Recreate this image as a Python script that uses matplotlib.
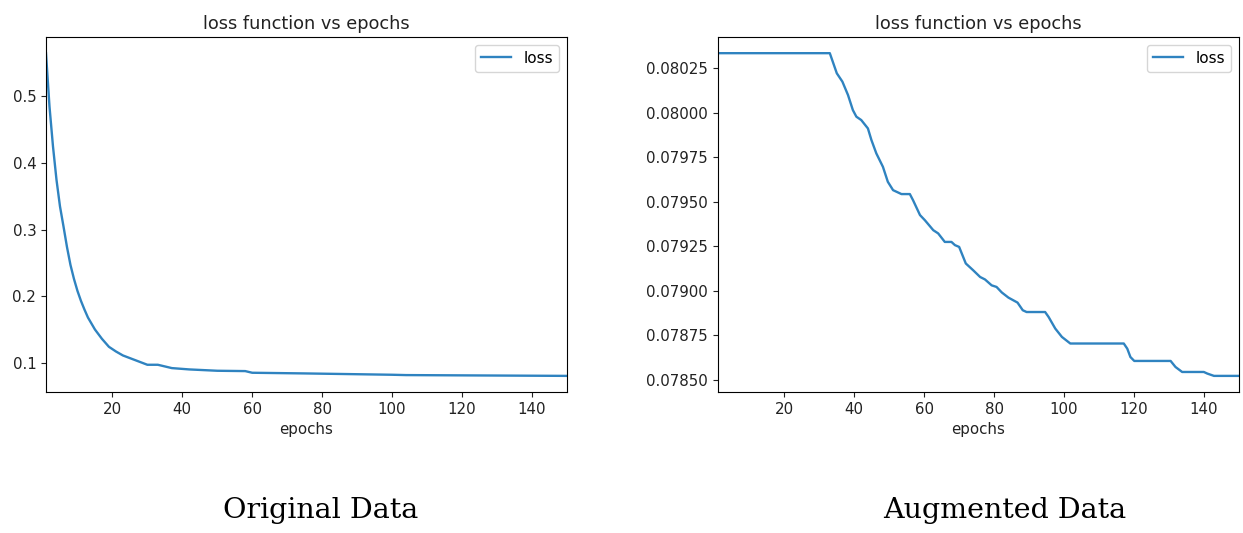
import matplotlib.pyplot as plt

# loss (epoch, loss)
orig_epochs = [1, 2, 3, 4, 5, 6, 7, 8, 9, 10, 11, 12, 13, 14, 15, 16, 17, 18,
               19, 21, 23, 27, 30, 33, 37, 42, 50, 58, 60, 75, 100, 104, 150]
orig_loss = [0.565, 0.485, 0.425, 0.375, 0.335, 0.305, 0.274, 0.247, 0.226,
             0.208, 0.193, 0.180, 0.168, 0.159, 0.150, 0.143, 0.136, 0.130,
             0.124, 0.117, 0.111, 0.103, 0.097, 0.097, 0.092, 0.090,
             0.088, 0.0875, 0.085, 0.084, 0.082, 0.0815, 0.0803]

# loss (epoch, loss)
aug_epochs = [1, 33, 35, 36.6, 38.2, 39.6, 40.6, 42, 43.9, 44.9, 46.3, 48.2,
              49.6, 51.1, 53.5, 55.9, 56.8, 58.8, 60.2, 62.6, 64, 65.9,
              67.8, 68.8, 70, 71.9, 74, 76, 77.4, 79.3, 80.7, 82.2, 84.1,
              86.7, 88.2, 89.3, 94.6, 95.6, 97.5, 99.4, 101.8, 117.1, 118.1,
              119, 120.1, 130.5, 131.9, 133.8, 140, 141, 142.9, 150]
aug_loss = [0.080335, 0.080335, 0.080222, 0.080175, 0.08010, 0.080015,
            0.079978, 0.079959, 0.079912, 0.079847, 0.079772, 0.079696,
            0.079612, 0.079565, 0.079543, 0.079543, 0.079509, 0.079425,
            0.079396, 0.07934, 0.079322, 0.079274, 0.079274, 0.079256,
            0.079246, 0.079153, 0.079115, 0.079077, 0.079063, 0.07903,
            0.079021, 0.07899, 0.078961, 0.078933, 0.07889, 0.07888,
            0.07888, 0.078852, 0.078787, 0.07874, 0.078703, 0.078703,
            0.078674, 0.078627, 0.078605, 0.078605, 0.078571, 0.078543,
            0.078543, 0.078534, 0.078521, 0.078521]

captions = ["Original Data", "Augmented Data"]

fig = plt.figure(figsize=(12.43, 5.33), dpi=100)
ax1 = fig.add_axes([0.037, 0.2645, 0.419, 0.666])
ax2 = fig.add_axes([0.5776, 0.2645, 0.419, 0.666])

for ax, x, y in [(ax1, orig_epochs, orig_loss), (ax2, aug_epochs, aug_loss)]:
    ax.plot(x, y, color='#2f83c0', linewidth=1.7, label='loss')
    ax.set_xlim(1, 150)
    ax.margins(y=0.05)
    ax.set_title("loss function vs epochs", fontsize=12.8, color='#222222')
    ax.set_xlabel("epochs", fontsize=10.8, color='#222222')
    ax.set_xticks([20, 40, 60, 80, 100, 120, 140])
    ax.tick_params(labelsize=10.8, colors='#222222')
    ax.legend(loc='upper right', fontsize=11)

ax1.set_yticks([0.1, 0.2, 0.3, 0.4, 0.5])
ax2.set_yticks([0.0785, 0.07875, 0.079, 0.07925, 0.0795, 0.07975, 0.08, 0.08025])
ax2.set_yticklabels(['0.07850', '0.07875', '0.07900', '0.07925', '0.07950',
                     '0.07975', '0.08000', '0.08025'])

fig.text(0.258, 0.043, captions[0], ha='center', va='center',
         family='DejaVu Serif', fontsize=20.5)
fig.text(0.808, 0.043, captions[1], ha='center', va='center',
         family='DejaVu Serif', fontsize=20.5)

plt.savefig('out.png')
